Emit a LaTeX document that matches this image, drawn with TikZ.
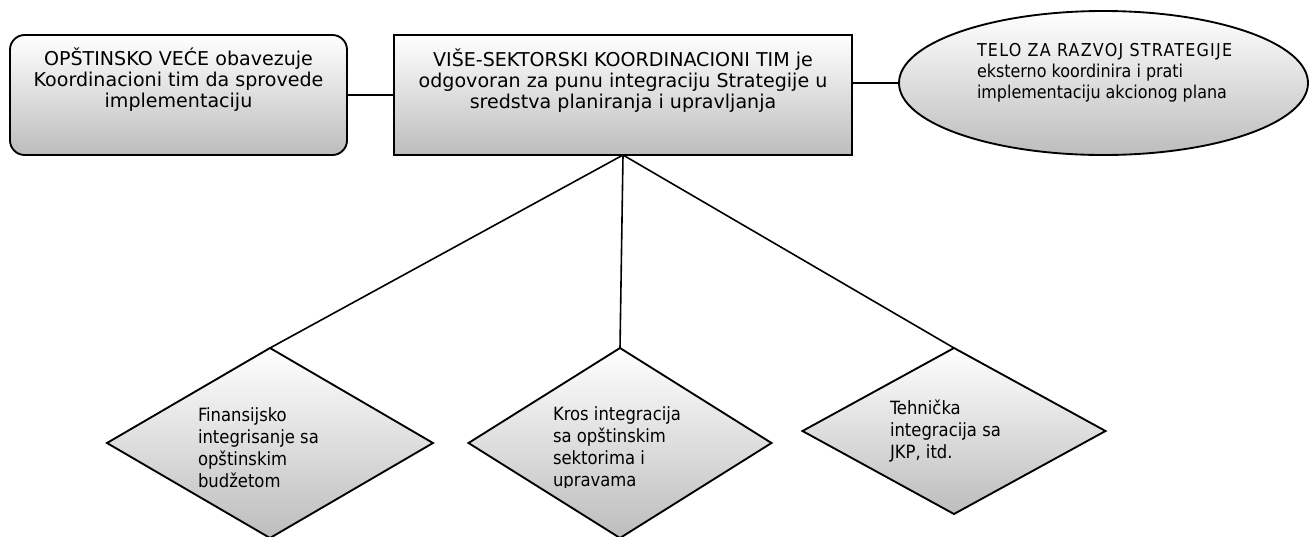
\documentclass[tikz,border=0pt]{standalone}
\usepackage{fontspec}
\setmainfont{DejaVu Sans}
\newfontfamily\condfont{DejaVu Sans Condensed}
\usetikzlibrary{shapes.geometric}
\begin{document}
\begin{tikzpicture}[x=0.75pt,y=-0.75pt,
  fillshape/.style={draw=black, line width=1.4pt, top color=white, bottom color=gray!52, inner sep=0pt, outer sep=0pt},
  roundbox/.style={fillshape, rectangle, rounded corners=11pt, minimum width=252.75pt, minimum height=90pt},
  mainbox/.style={fillshape, rectangle, minimum width=343.5pt, minimum height=90pt},
  oval/.style={fillshape, ellipse, minimum width=306.75pt, minimum height=108pt},
  rhomb/.style={fillshape, diamond, minimum width=#1, minimum height=142.5pt},
  boxtxt/.style={inner sep=0pt, outer sep=0pt, align=center, anchor=base, font=\fontsize{14.3}{15.75}\selectfont},
  ovaltxt/.style={inner sep=0pt, outer sep=0pt, align=left, anchor=base west, font=\condfont\fontsize{13.3}{15.5}\selectfont},
  rhombtxt/.style={inner sep=0pt, outer sep=0pt, align=left, anchor=base west, font=\condfont\fontsize{13.7}{16.3}\selectfont},
  link/.style={draw=black, line width=1.2pt}
]
\useasboundingbox (0,0) rectangle (1313,536);
\fill[white] (0,0) rectangle (1313,536);

\node[roundbox] (opv) at (178.5,95) {};
\node[mainbox] (tim) at (623,95) {};
\node[oval] (telo) at (1103.5,83) {};
\node[rhomb=244.5pt] (fin) at (270,443) {};
\node[rhomb=227.25pt] (kros) at (620,443) {};
\node[fillshape, diamond, minimum width=227.25pt, minimum height=124.5pt] (teh) at (954,431) {};

\draw[link] (opv.east) -- (tim.west);
\draw[link] (telo.west) -- (telo.west -| tim.east);
\draw[link] (tim.south) -- (fin.north);
\draw[link] (tim.south) -- (kros.north);
\draw[link] (tim.south) -- (teh.north);

\node[boxtxt] (t1) at (178.5,107) {OPŠTINSKO VEĆE obavezuje\\Koordinacioni tim da sprovede\\implementaciju};
\node[boxtxt] (t2) at (623,108) {VIŠE-SEKTORSKI KOORDINACIONI TIM je\\odgovoran za punu integraciju Strategije u\\sredstva planiranja i upravljanja};
\node[ovaltxt] (t3) at (977,98) {{\addfontfeature{LetterSpace=7}TELO ZA RAZVOJ STRATEGIJE}\\eksterno koordinira i prati\\implementaciju akcionog plana};
\node[rhombtxt] (t4) at (198,487) {Finansijsko\\integrisanje sa\\opštinskim\\budžetom};
\begin{scope}
\clip (540,390) rectangle (720,487.5);
\node[rhombtxt] (t5) at (553,486) {Kros integracija\\sa opštinskim\\sektorima i\\upravama};
\end{scope}
\node[rhombtxt] (t6) at (890,458) {Tehnička\\integracija sa\\JKP, itd.};
\end{tikzpicture}
\end{document}
